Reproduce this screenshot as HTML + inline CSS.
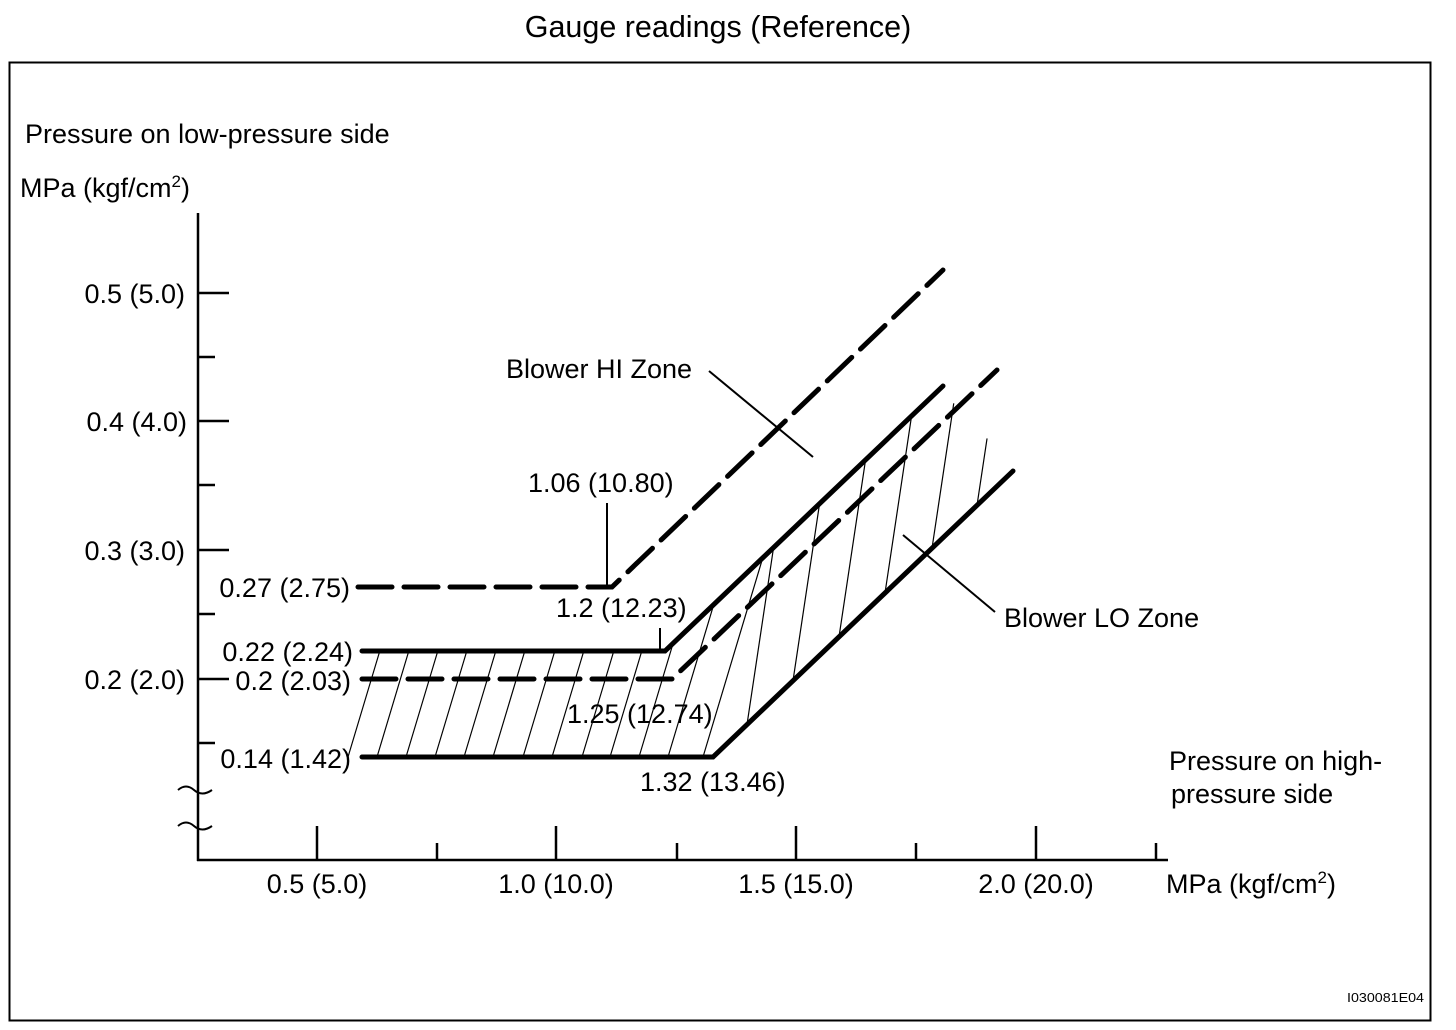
<!DOCTYPE html>
<html><head><meta charset="utf-8"><style>
html,body{margin:0;padding:0;background:#fff;}
svg{display:block;}
text{font-family:"Liberation Sans",Arial,sans-serif;fill:#000;font-size:27px;}
</style></head><body>
<svg id="s" width="1456" height="1030" viewBox="0 0 1456 1030" xmlns="http://www.w3.org/2000/svg">
<text x="718" y="37" text-anchor="middle" style="font-size:30.5px">Gauge readings (Reference)</text>
<rect x="9.5" y="62.5" width="1421" height="958" fill="none" stroke="#000" stroke-width="2"/>
<text x="25" y="143">Pressure on low-pressure side</text>
<text x="20" y="197">MPa (kgf/cm<tspan dy="-10" style="font-size:17px">2</tspan><tspan dy="10">)</tspan></text>
<g stroke="#000" stroke-width="2.5" fill="none">
<line x1="198" y1="213" x2="198" y2="861"/>
<line x1="197" y1="860" x2="1168" y2="860"/>
<line x1="198" y1="293" x2="229" y2="293"/><line x1="198" y1="421" x2="229" y2="421"/>
<line x1="198" y1="550" x2="229" y2="550"/><line x1="198" y1="679" x2="229" y2="679"/>
<line x1="198" y1="357" x2="215" y2="357"/><line x1="198" y1="485" x2="215" y2="485"/>
<line x1="198" y1="614" x2="215" y2="614"/><line x1="198" y1="743" x2="215" y2="743"/>
<line x1="317" y1="826" x2="317" y2="860"/><line x1="556" y1="826" x2="556" y2="860"/>
<line x1="796" y1="826" x2="796" y2="860"/><line x1="1036" y1="826" x2="1036" y2="860"/>
<line x1="437" y1="843" x2="437" y2="860"/><line x1="677" y1="843" x2="677" y2="860"/>
<line x1="916" y1="843" x2="916" y2="860"/><line x1="1156" y1="843" x2="1156" y2="860"/>
<path d="M178 790 q8 -7 16 0 t18 0" stroke-width="2"/>
<path d="M178 826 q8 -7 16 0 t18 0" stroke-width="2"/>
</g>
<g stroke="#000" fill="none" stroke-width="5" stroke-linecap="round">
<path d="M358 587 L612 587 L943 270" stroke-dasharray="34 12"/>
<path d="M362 651 L665 651 L943 386"/>
<path d="M362 679 L672 679 L997 370" stroke-dasharray="34 12"/>
<path d="M362 757 L713 757 L1013 471"/>
</g>
<g id="h" stroke="#000" stroke-width="1.2"></g>
<g stroke="#000" stroke-width="2" fill="none">
<line x1="607" y1="503" x2="607" y2="587"/>
<line x1="660" y1="628" x2="660" y2="651"/>
<line x1="709" y1="371" x2="813" y2="457"/>
<line x1="903" y1="535" x2="995" y2="612"/>
</g>
<g text-anchor="end">
<text x="185" y="303">0.5 (5.0)</text>
<text x="187" y="431">0.4 (4.0)</text>
<text x="185" y="560">0.3 (3.0)</text>
<text x="185" y="689">0.2 (2.0)</text>
<text x="350" y="597">0.27 (2.75)</text>
<text x="353" y="661">0.22 (2.24)</text>
<text x="351" y="690">0.2 (2.03)</text>
<text x="351" y="768">0.14 (1.42)</text>
</g>
<text x="528" y="492">1.06 (10.80)</text>
<text x="556" y="617">1.2 (12.23)</text>
<text x="567" y="723">1.25 (12.74)</text>
<text x="640" y="791">1.32 (13.46)</text>
<text x="506" y="378">Blower HI Zone</text>
<text x="1004" y="627">Blower LO Zone</text>
<text x="1169" y="770">Pressure on high-</text>
<text x="1171" y="803">pressure side</text>
<g text-anchor="middle">
<text x="317" y="893">0.5 (5.0)</text><text x="556" y="893">1.0 (10.0)</text>
<text x="796" y="893">1.5 (15.0)</text><text x="1036" y="893">2.0 (20.0)</text>
</g>
<text x="1166" y="893">MPa (kgf/cm<tspan dy="-10" style="font-size:17px">2</tspan><tspan dy="10">)</tspan></text>
<text x="1424" y="1002" text-anchor="end" style="font-size:13px" textLength="77" lengthAdjust="spacingAndGlyphs">I030081E04</text>
</svg>
<script>
(function(){
var g=document.getElementById('h'),ns='http://www.w3.org/2000/svg';
function low(x){return x<=713?757:757-0.953*(x-713);}
function up(x){var u=x<=665?651:651-0.953*(x-665);return Math.max(u,397+(x-947)*1.04);}
var xs=[348,377,406,435,464,493,523,552,582,610,639,668,703,747,793,839,885,932,977];
xs.forEach(function(x0){
 var y0=low(x0),k=x0<=703?0.30:0.15,x=x0,y=y0;
 for(var i=0;i<400;i++){y-=1;x+=k;if(y<=up(x))break;}
 var l=document.createElementNS(ns,'line');
 l.setAttribute('x1',x0);l.setAttribute('y1',y0);l.setAttribute('x2',x);l.setAttribute('y2',y);
 g.appendChild(l);
});
})();
</script>
</body></html>
